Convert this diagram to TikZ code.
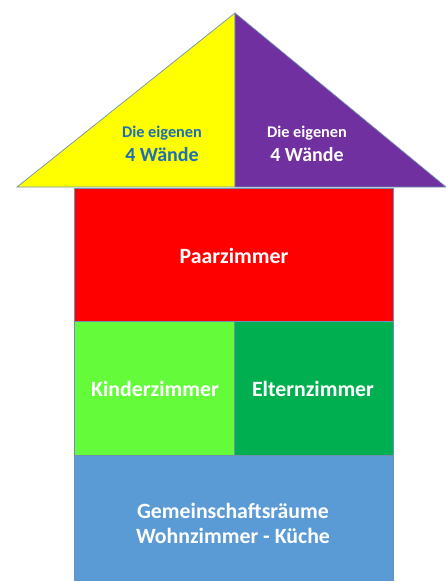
\documentclass[tikz,border=0pt]{standalone}
\usepackage{fontspec}
\setmainfont{Carlito}
\usetikzlibrary{positioning}
\definecolor{hausYellow}{HTML}{FFFF00}
\definecolor{hausPurple}{HTML}{7030A0}
\definecolor{hausRed}{HTML}{FF0000}
\definecolor{hausLime}{HTML}{64FC3A}
\definecolor{hausGreen}{HTML}{00B050}
\definecolor{hausBlue}{HTML}{5B9BD5}
\definecolor{hausLine}{HTML}{6F8FB3}
\definecolor{hausText}{HTML}{1C6FB8}
\begin{document}
\begin{tikzpicture}[x=1pt,y=-1pt,
  wall/.style={draw=hausLine,line width=0.7pt},
  room/.style={font=\fontsize{21.8}{25}\selectfont\bfseries,text=white,align=center,inner sep=0pt},
  roofsm/.style={font=\fontsize{16.3}{18}\selectfont\bfseries,inner sep=0pt},
  roofbg/.style={font=\fontsize{20}{22}\selectfont\bfseries,inner sep=0pt}]
\useasboundingbox (0,0) rectangle (446,581);

%% Roof
\filldraw[wall,fill=hausYellow] (17,187) -- (235,13) -- (235,187) -- cycle;
\filldraw[wall,fill=hausPurple] (235,13) -- (446,187) -- (235,187) -- cycle;
\node[roofsm,text=hausText] (ldie) at (162,133) {Die eigenen};
\node[roofbg,text=hausText] (lwand) at (162,155) {4 Wände};
\node[roofsm,text=white] (rdie) at (307,133) {Die eigenen};
\node[roofbg,text=white] (rwand) at (307,155) {4 Wände};

%% Rooms
\filldraw[wall,fill=hausRed]   (74,188) rectangle (393,321);
\filldraw[wall,fill=hausLime]  (74,321) rectangle (234,455);
\filldraw[wall,fill=hausGreen] (234,321) rectangle (393,455);
\filldraw[wall,fill=hausBlue]  (74,455) rectangle (393,584);

\node[room] (paar)   at (234,256) {Paarzimmer};
\node[room] (kinder) at (155,389) {Kinderzimmer};
\node[room] (eltern) at (313,389) {Elternzimmer};
\node[room] (gemein) at (233,523) {Gemeinschaftsräume\\Wohnzimmer - Küche};
\end{tikzpicture}
\end{document}
